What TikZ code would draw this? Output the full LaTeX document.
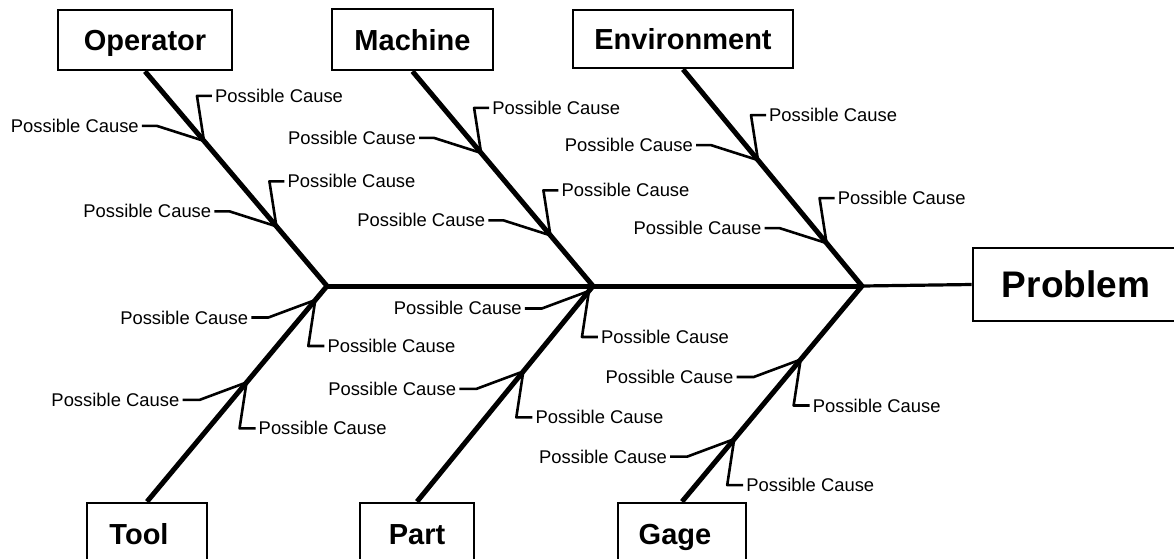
\documentclass[tikz,border=0pt]{standalone}
\usepackage{fontspec}
\setmainfont{Liberation Sans}
\usetikzlibrary{calc}
\begin{document}
\begin{tikzpicture}[x=1pt,y=-1pt,
  bone/.style={line width=5pt, line join=miter},
  twig/.style={line width=2.6pt, line join=round},
  catbox/.style={draw, line width=2.7pt, inner sep=0pt, text height=21pt, text depth=0pt,
    font=\fontsize{29}{32}\selectfont\bfseries},
  cause/.style={inner xsep=3pt, inner ysep=0pt, text height=13pt, text depth=0pt,
    font=\fontsize{18.4}{21}\selectfont}]
\useasboundingbox (0,0) rectangle (1174,558);
\clip (0,0) rectangle (1174,558);

% category boxes
\node[catbox, minimum width=174pt, minimum height=60pt] (op) at (145,40) {Operator};
\node[catbox, minimum width=161pt, minimum height=61pt] (ma) at (412.5,39.5) {Machine};
\node[catbox, minimum width=220pt, minimum height=58pt] (en) at (683,39) {Environment};
\node[catbox, minimum width=120pt, minimum height=62pt] (to) at (147,534) {Tool\kern16pt};
\node[catbox, minimum width=114pt, minimum height=62pt] (pa) at (417,534) {Part};
\node[catbox, minimum width=128pt, minimum height=62pt] (ga) at (682,534) {Gage\kern14pt};
% effect box
\node[catbox, minimum width=206pt, minimum height=73pt, text height=26.5pt,
  font=\fontsize{37}{40}\selectfont\bfseries] (pr) at (1076,284.5) {Problem};

% where the bones meet the spine
\coordinate (s1) at (327,286);
\coordinate (s2) at (593,286);
\coordinate (s3) at (862,286);

% bones and spine
\draw[bone] (op.south) -- (s1) -- (to.north);
\draw[bone] (ma.south) -- (s2) -- (pa.north);
\draw[bone] (en.south) -- (s3) -- (ga.north);
\draw[bone] (s1) -- (s3);
\draw[line width=3.2pt] (s3) -- (pr.west);

% points on the bones where the causes attach
\coordinate (o1) at ($(op.south)!0.324!(s1)$);
\coordinate (o2) at ($(op.south)!0.722!(s1)$);
\coordinate (m1) at ($(ma.south)!0.380!(s2)$);
\coordinate (m2) at ($(ma.south)!0.764!(s2)$);
\coordinate (e1) at ($(en.south)!0.419!(s3)$);
\coordinate (e2) at ($(en.south)!0.802!(s3)$);
\coordinate (t1) at ($(s1)!0.065!(to.north)$);
\coordinate (t2) at ($(s1)!0.447!(to.north)$);
\coordinate (p1) at ($(s2)!0.023!(pa.north)$);
\coordinate (p2) at ($(s2)!0.396!(pa.north)$);
\coordinate (g1) at ($(s3)!0.341!(ga.north)$);
\coordinate (g2) at ($(s3)!0.710!(ga.north)$);

% causes on the upper bones
\foreach \j in {o1,o2,m1,m2,e1,e2}{
  \node[cause, anchor=east] (\j-l) at ($(\j)+(-62,-15)$) {Possible Cause};
  \node[cause, anchor=west] (\j-r) at ($(\j)+(8,-45)$) {Possible Cause};
  \draw[twig] (\j-l.east) -- ++(15,0) -- (\j) -- ($(\j)+(-7,-45)$) -- (\j-r.west);
}

% causes on the lower bones
\foreach \j in {t1,t2,p1,p2,g1,g2}{
  \node[cause, anchor=east] (\j-l) at ($(\j)+(-64,17.5)$) {Possible Cause};
  \node[cause, anchor=west] (\j-r) at ($(\j)+(9,46)$) {Possible Cause};
  \draw[twig] (\j-l.east) -- ++(17,0) -- (\j) -- ($(\j)+(-7,46)$) -- (\j-r.west);
}
\end{tikzpicture}
\end{document}
